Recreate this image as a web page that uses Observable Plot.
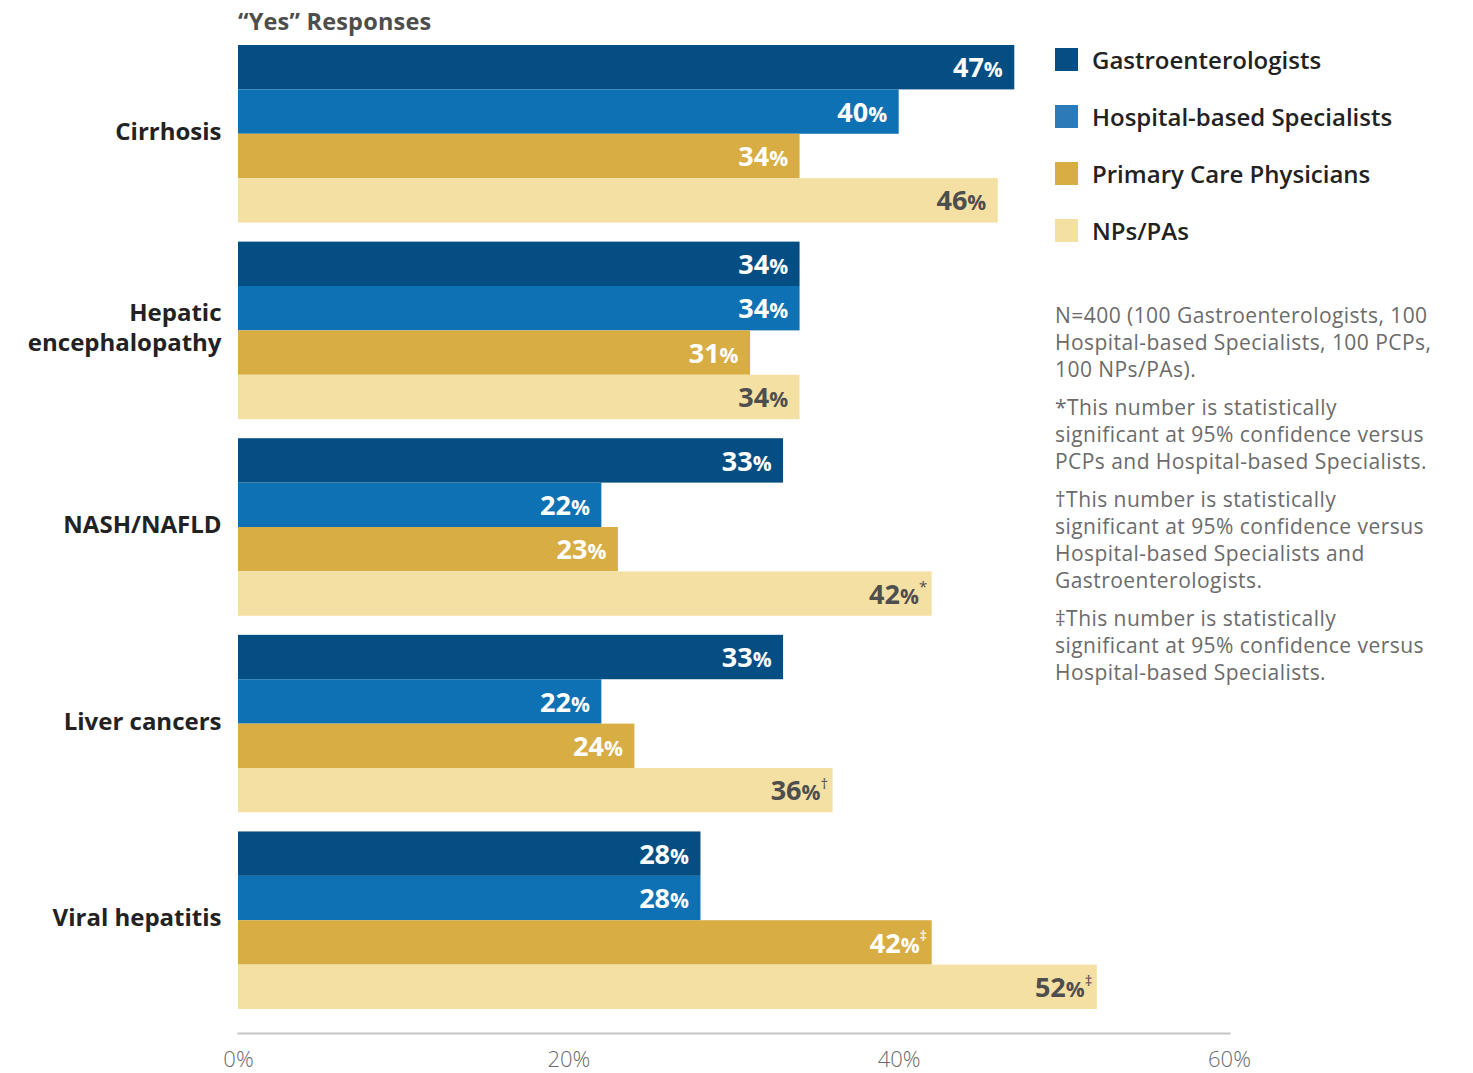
<!DOCTYPE html>
<html>
<head>
<meta charset="utf-8">
<script src="https://cdn.jsdelivr.net/npm/d3@7"></script>
<script src="https://cdn.jsdelivr.net/npm/@observablehq/plot@0.6"></script>
<style>
  html, body { margin: 0; padding: 0; background: #fff; }
  body { font-family: "Open Sans", "Noto Sans", sans-serif; }
  #wrap { position: relative; width: 1473px; height: 1073px; overflow: hidden; }
  #title { height: 40px; padding-left: 238px; box-sizing: border-box; font-size: 23.5px; font-weight: 700; color: #4d4d4d; line-height: 42px; letter-spacing: 0.2px; }
  #chart svg { display: block; }
  .legend-row { position: absolute; left: 1055px; height: 28px; display: flex; align-items: center; font-size: 24px; font-weight: 600; color: #222; }
  .legend-row .sw { width: 23px; height: 23px; margin-right: 14px; flex: none; }
  #notes { position: absolute; left: 1055px; top: 302px; width: 418px; font-size: 21px; line-height: 27px; color: #6b6b6b; letter-spacing: 0.45px; }
  #notes p { margin: 0 0 11px 0; white-space: nowrap; }
</style>
</head>
<body>
<div id="wrap">
  <div id="title">“Yes” Responses</div>
  <div id="chart"></div>
  <div id="legend"></div>
  <div id="notes">
    <p>N=400 (100 Gastroenterologists, 100<br>Hospital-based Specialists, 100 PCPs,<br>100 NPs/PAs).</p>
    <p>*This number is statistically<br>significant at 95% confidence versus<br>PCPs and Hospital-based Specialists.</p>
    <p>†This number is statistically<br>significant at 95% confidence versus<br>Hospital-based Specialists and<br>Gastroenterologists.</p>
    <p>‡This number is statistically<br>significant at 95% confidence versus<br>Hospital-based Specialists.</p>
  </div>
</div>
<script>
// ---- Data ----
const categories = ["Cirrhosis", "Hepatic encephalopathy", "NASH/NAFLD", "Liver cancers", "Viral hepatitis"];
const categoryLabels = ["Cirrhosis", "Hepatic\nencephalopathy", "NASH/NAFLD", "Liver cancers", "Viral hepatitis"];
const series = ["Gastroenterologists", "Hospital-based Specialists", "Primary Care Physicians", "NPs/PAs"];
const gastroenterologists = [47, 34, 33, 33, 28];
const hospitalSpecialists = [40, 34, 22, 22, 28];
const primaryCare = [34, 31, 23, 24, 42];
const npsPas = [46, 34, 42, 36, 52];
const primaryCareMarks = ["", "", "", "", "‡"];
const npsPasMarks = ["", "", "*", "†", "‡"];
const xTicks = [0, 20, 40, 60];

const colors = ["#054e84", "#0e71b3", "#d8ad44", "#f5e0a4"];
const legendColors = ["#054e84", "#2c7bb8", "#d8ad44", "#f5e0a4"];
const labelColors = ["#ffffff", "#ffffff", "#ffffff", "#4e4e4e"];

const seriesValues = [gastroenterologists, hospitalSpecialists, primaryCare, npsPas];
const seriesMarks = [categories.map(() => ""), categories.map(() => ""), primaryCareMarks, npsPasMarks];

const data = [];
categories.forEach((c, i) => {
  series.forEach((s, j) => {
    data.push({category: c, series: s, value: seriesValues[j][i], mark: seriesMarks[j][i], labelColor: labelColors[j]});
  });
});

function richText(index, scales, values, dimensions, context, next) {
  const g = next(index, scales, values, dimensions, context);
  d3.select(g).selectAll("text").each(function() {
    const t = this.textContent;
    const m = t.match(/^(\d+)(%)(.*)$/);
    if (!m) return;
    const el = d3.select(this);
    el.text(null);
    el.append("tspan").text(m[1]);
    el.append("tspan").attr("font-size", 21).text(m[2]);
    if (m[3]) el.append("tspan").attr("font-size", 15).attr("font-weight", 400).attr("dy", "-0.75em").text(m[3]);
  });
  return g;
}

const labelOpts = {
  x: "value", y: "series",
  fill: "labelColor",
  textAnchor: "end",
  fontSize: 27, fontWeight: 700,
  dy: 1,
  render: richText
};

const chart = Plot.plot({
  width: 1473,
  height: 1033,
  marginLeft: 238,
  marginRight: 244,
  marginTop: 5,
  marginBottom: 64,
  style: {fontFamily: "'Open Sans', 'Noto Sans', sans-serif", background: "#fff"},
  x: {domain: [0, 60]},
  y: {domain: series, padding: 0, axis: null, round: false},
  fy: {domain: categories, paddingInner: 0.097, paddingOuter: 0, round: false},
  color: {domain: series, range: colors},
  marks: [
    Plot.barX(data, {x: "value", y: "series", fy: "category", fill: "series"}),
    Plot.text(data.filter(d => !d.mark), {...labelOpts, fy: "category", text: d => d.value + "%", dx: -12}),
    Plot.text(data.filter(d => d.mark), {...labelOpts, fy: "category", text: d => d.value + "%" + d.mark, dx: -5}),
    Plot.frame({anchor: "bottom", facetAnchor: "bottom", dy: 24, stroke: "#c6c6c6", strokeWidth: 2}),
    Plot.axisX({anchor: "bottom", ticks: xTicks, tickSize: 0, tickPadding: 42, tickFormat: d => d + "%", fontSize: 22, fontWeight: 300, fill: "#6b6b6b", label: null}),
    Plot.axisFy({anchor: "left", tickSize: 0, tickPadding: 17, dy: -4, tickFormat: d => categoryLabels[categories.indexOf(d)], fontSize: 24, fontWeight: 700, fill: "#222", lineHeight: 1.25, label: null})
  ]
});
document.getElementById("chart").appendChild(chart);

// Legend (HTML, to the right)
const legend = document.getElementById("legend");
const rowCenters = [59, 116, 173, 230];
series.forEach((s, i) => {
  const row = document.createElement("div");
  row.className = "legend-row";
  row.style.top = (rowCenters[i] - 14) + "px";
  const sw = document.createElement("div");
  sw.className = "sw";
  sw.style.background = legendColors[i];
  const lab = document.createElement("span");
  lab.textContent = s;
  row.appendChild(sw);
  row.appendChild(lab);
  legend.appendChild(row);
});
</script>
</body>
</html>
